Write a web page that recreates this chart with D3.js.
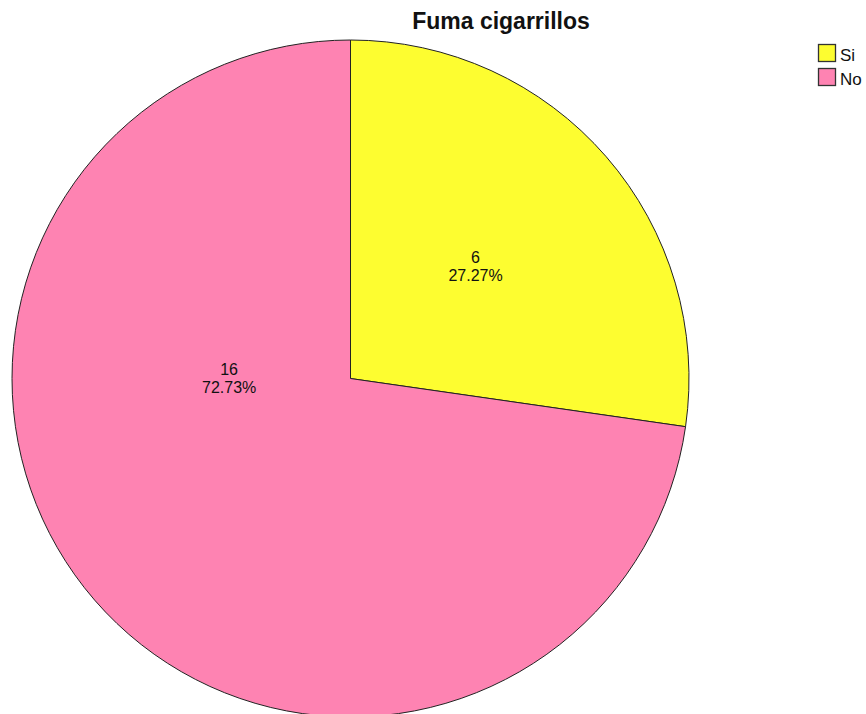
<!DOCTYPE html>
<html><head><meta charset="utf-8">
<script src="https://cdn.jsdelivr.net/npm/d3@7"></script>
<style>body{margin:0;background:#fff;} svg{display:block;}</style>
</head><body>
<svg id="c" width="866" height="714"></svg>
<script>
const title = "Fuma cigarrillos";
const categories = ["Si", "No"];
const counts = [6, 16];
const colors = ["#fdfd30", "#fe83b2"];
// label placement (angle in degrees clockwise from top, radius as fraction of pie radius)
const labelAngles = [49.6, 267.4];
const labelRadii = [0.485, 0.359];

const svg = d3.select("#c");
const cx = 350.5, cy = 378.5, R = 338.5;
const total = d3.sum(counts);
const data = categories.map((c, i) => ({cat: c, v: counts[i], col: colors[i], i}));

const pie = d3.pie().value(d => d.v).sort(null);
const arc = d3.arc().innerRadius(0).outerRadius(R);
const g = svg.append("g").attr("transform", `translate(${cx},${cy})`);
const arcs = pie(data);
g.selectAll("path").data(arcs).enter().append("path")
  .attr("d", arc).attr("fill", d => d.data.col)
  .attr("stroke", "#222").attr("stroke-width", 1);

arcs.forEach((a, i) => {
  const ang = labelAngles[i] * Math.PI / 180;
  const r = R * labelRadii[i];
  const x = r * Math.sin(ang), y = -r * Math.cos(ang);
  const t = g.append("text").attr("text-anchor", "middle")
    .attr("font-family", "Liberation Sans, Arial, sans-serif").attr("font-size", 16).attr("fill", "#111");
  t.append("tspan").attr("x", x).attr("y", y - 9).text(a.data.v);
  t.append("tspan").attr("x", x).attr("y", y + 9).text((a.data.v / total * 100).toFixed(2) + "%");
});

svg.append("text").attr("x", 501).attr("y", 29).attr("text-anchor", "middle")
  .attr("font-family", "Liberation Sans, Arial, sans-serif").attr("font-weight", "bold")
  .attr("font-size", 23).attr("fill", "#111").text(title);

const lg = svg.append("g").attr("transform", "translate(818.5,44.5)");
data.forEach((d, i) => {
  lg.append("rect").attr("x", 0).attr("y", i * 24).attr("width", 17).attr("height", 17)
    .attr("fill", d.col).attr("stroke", "#333").attr("stroke-width", 1.3);
  lg.append("text").attr("x", 21.5).attr("y", i * 24 + 16.5)
    .attr("font-family", "Liberation Sans, Arial, sans-serif").attr("font-size", 17).attr("fill", "#111").text(d.cat);
});
</script>
</body></html>
